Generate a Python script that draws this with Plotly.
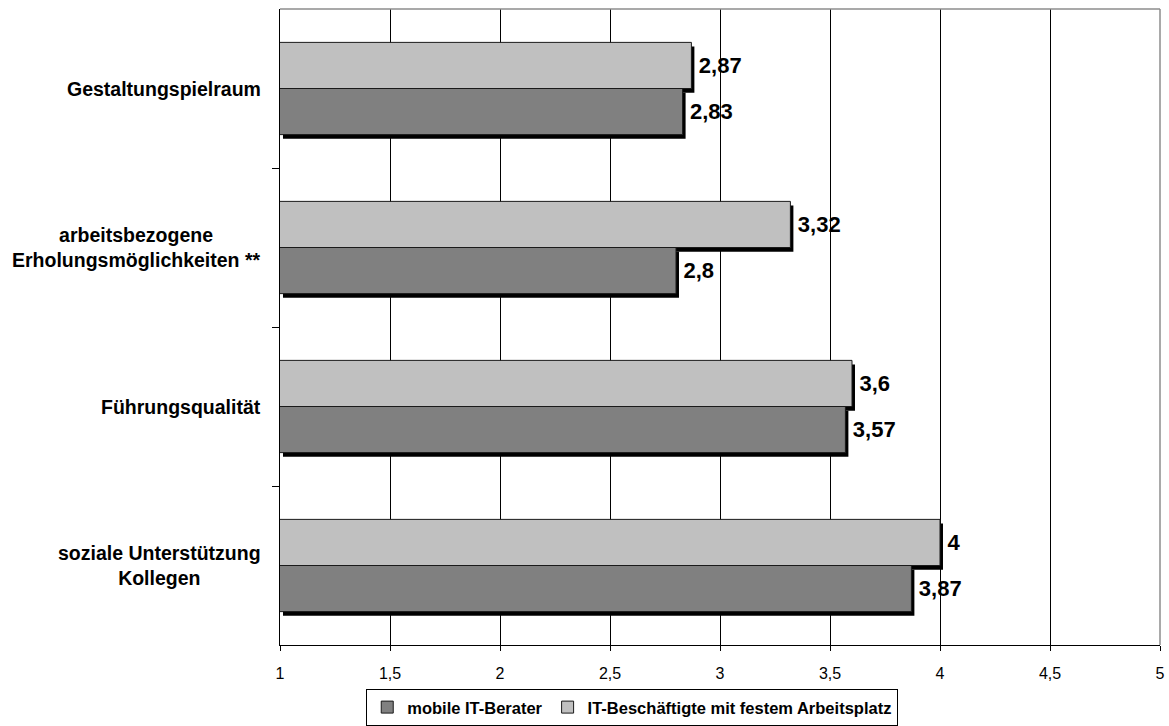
import plotly.graph_objects as go

# Mittelwerte je Skala (1 = niedrig, 5 = hoch)
categories = [
    "Gestaltungspielraum",
    "arbeitsbezogene<br>Erholungsmöglichkeiten **",
    "Führungsqualität",
    "soziale Unterstützung<br>Kollegen",
]
mobile_it = [2.83, 2.8, 3.57, 3.87]
fester_arbeitsplatz = [2.87, 3.32, 3.6, 4.0]
series_names = ["mobile IT-Berater", "IT-Beschäftigte mit festem Arbeitsplatz"]
x_ticks = [1, 1.5, 2, 2.5, 3, 3.5, 4, 4.5, 5]

FONT = "Liberation Sans, Arial, sans-serif"
DARK = "#808080"
LIGHT = "#C0C0C0"
BAR_W = 0.29
SHADOW_DX = 0.0136   # Schattenversatz nach rechts (x-Einheiten)
SHADOW_DY = 0.026    # Schattenversatz nach unten (Kategorie-Einheiten)
X_MIN = x_ticks[0]

pos = list(range(len(categories)))


def fmt(v):
    return f"{v:g}".replace(".", ",")


fig = go.Figure()

# Schlagschatten hinter den Balken
for vals, off in [(fester_arbeitsplatz, -BAR_W), (mobile_it, 0.0)]:
    fig.add_trace(go.Bar(
        y=pos, x=[v - X_MIN for v in vals], base=[X_MIN + SHADOW_DX] * len(vals),
        orientation="h", offset=off + SHADOW_DY, width=BAR_W,
        marker=dict(color="black", line=dict(width=0)),
        showlegend=False, hoverinfo="skip",
    ))

# Balken mit Wertbeschriftung
for name, vals, color, off in [
    (series_names[0], mobile_it, DARK, 0.0),
    (series_names[1], fester_arbeitsplatz, LIGHT, -BAR_W),
]:
    fig.add_trace(go.Bar(
        y=pos, x=vals, name=name, orientation="h",
        offset=off, width=BAR_W,
        marker=dict(color=color, line=dict(color="#1a1a1a", width=1)),
        text=["\u2009" + fmt(v) for v in vals], textposition="outside",
        textfont=dict(family=FONT, size=22, color="black", weight="bold"),
        constraintext="none", cliponaxis=False,
    ))

# Kategorienbeschriftungen (zentriert, mehrzeilig)
for i, c in enumerate(categories):
    fig.add_annotation(
        x=-0.0193, xref="paper", y=i, yref="y",
        text=c, showarrow=False, xanchor="right", align="center",
        font=dict(family=FONT, size=19.5, color="black", weight="bold"),
    )

# Rahmen oben und rechts
fig.add_shape(type="line", xref="x domain", yref="y domain", x0=0, x1=1, y0=1, y1=1,
              line=dict(color="#8c8c8c", width=1.5))
fig.add_shape(type="line", xref="x domain", yref="y domain", x0=1, x1=1, y0=0, y1=1,
              line=dict(color="#8c8c8c", width=1.5))

fig.update_layout(
    width=1169, height=726,
    margin=dict(l=280, r=9, t=9, b=81, autoexpand=False),
    paper_bgcolor="white", plot_bgcolor="white",
    barmode="overlay",
    separators=",.",
    font=dict(family=FONT, color="black"),
    showlegend=True,
    legend=dict(
        orientation="h", x=0.098, xanchor="left", y=-0.069, yanchor="top",
        bordercolor="black", borderwidth=1, bgcolor="white",
        font=dict(family=FONT, size=16.5, color="black", weight="bold"),
        itemwidth=30, traceorder="normal",
    ),
    xaxis=dict(
        range=[x_ticks[0], x_ticks[-1]], tickvals=x_ticks,
        ticktext=[fmt(t) for t in x_ticks],
        showgrid=True, gridcolor="black", gridwidth=1,
        showline=True, linecolor="black", linewidth=1,
        ticks="outside", ticklen=5, tickcolor="black",
        tickfont=dict(family=FONT, size=16, color="black"),
        ticklabelstandoff=9,
        zeroline=False, fixedrange=True,
    ),
    yaxis=dict(
        range=[len(categories) - 0.5, -0.5],
        tickvals=[i + 0.5 for i in pos[:-1]], showticklabels=False,
        ticks="outside", ticklen=7, tickcolor="black",
        showgrid=False, zeroline=False,
        showline=True, linecolor="black", linewidth=1, fixedrange=True,
    ),
)

fig.write_html("out.html")
